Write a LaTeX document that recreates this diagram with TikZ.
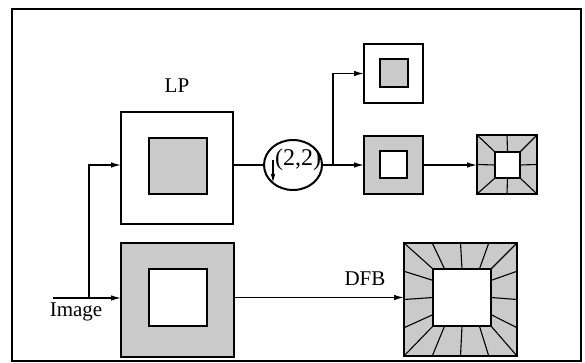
\documentclass[tikz,border=0pt]{standalone}
\usepackage{fontspec}
\setmainfont{Liberation Serif}
\usetikzlibrary{arrows.meta,calc,shapes.geometric}
\definecolor{boxgrey}{RGB}{202,202,202}
\tikzset{
  sq/.style={draw, line width=2pt, rectangle, inner sep=0pt, outer sep=0pt},
  greysq/.style={sq, fill=boxgrey},
  whitesq/.style={sq, fill=white},
  conn/.style={line width=1.2pt},
  arr/.style={conn, -{Latex[length=10pt,width=5.5pt]}},
  ray/.style={line width=1.1pt},
  lbl/.style={font=\fontsize{21}{23}\selectfont, inner sep=0pt},
}
\newcommand\drawrays[3]{%
  \foreach \ra/\rb in {#3} {
    \draw[ray] ($(#1.north west)!\ra!(#1.north east)$) -- ($(#2.north west)!\rb!(#2.north east)$);
    \draw[ray] ($(#1.south west)!\ra!(#1.south east)$) -- ($(#2.south west)!\rb!(#2.south east)$);
    \draw[ray] ($(#1.north west)!\ra!(#1.south west)$) -- ($(#2.north west)!\rb!(#2.south west)$);
    \draw[ray] ($(#1.north east)!\ra!(#1.south east)$) -- ($(#2.north east)!\rb!(#2.south east)$);
  }
  \draw[ray] (#1.north west) -- (#2.north west);
  \draw[ray] (#1.north east) -- (#2.north east);
  \draw[ray] (#1.south west) -- (#2.south west);
  \draw[ray] (#1.south east) -- (#2.south east);
}
\begin{document}
\begin{tikzpicture}[x=1pt,y=-1pt]
\useasboundingbox (0,0) rectangle (585,363);
\draw[line width=1.3pt] (12,9) rectangle (581,361);

% LP block
\node[sq, minimum width=112pt, minimum height=112pt] (lp) at (177,168) {};
\node[greysq, minimum width=58pt, minimum height=56pt] (lpin) at (178,166) {};
\node[lbl] (lplbl) at (177,86) {LP};

% bottom block
\node[greysq, minimum width=113pt, minimum height=114pt] (bot) at (177.5,300) {};
\node[whitesq, minimum width=58pt, minimum height=57pt] (botin) at (178,297.5) {};

% downsampler
\node[draw, ellipse, line width=2pt, minimum width=58pt, minimum height=50pt, inner sep=0pt] (ds) at (293,165) {};
\node[lbl, font=\fontsize{24}{26}\selectfont] (dslbl) at (298,160) {(2,2)};
\coordinate (dsa) at (273,160);
\coordinate (dsb) at (273,183);
\draw[conn, -{Latex[length=9pt,width=4.5pt]}] (dsa) -- (dsb);

% top block
\node[sq, minimum width=59pt, minimum height=59pt] (top) at (393.5,73.5) {};
\node[greysq, minimum width=28pt, minimum height=28pt] (topin) at (394,73) {};

% middle block
\node[greysq, minimum width=59pt, minimum height=58pt] (mid) at (393.5,165) {};
\node[whitesq, minimum width=27pt, minimum height=27pt] (midin) at (393.5,164.5) {};

% small right block
\node[greysq, minimum width=60pt, minimum height=59pt] (sr) at (507,164.5) {};
\node[whitesq, minimum width=25pt, minimum height=26pt] (srin) at (507.5,165) {};
\drawrays{sr}{srin}{0.5/0.5}
\node[sq, minimum width=60pt, minimum height=59pt] at (507,164.5) {};
\node[sq, minimum width=25pt, minimum height=26pt] at (507.5,165) {};

% big right block
\node[greysq, minimum width=113pt, minimum height=113pt] (big) at (460.5,299.5) {};
\node[whitesq, minimum width=58pt, minimum height=57pt] (bigin) at (462,297.5) {};
\drawrays{big}{bigin}{0.25/0.2,0.5/0.5,0.75/0.8}
\node[sq, minimum width=113pt, minimum height=113pt] at (460.5,299.5) {};
\node[sq, minimum width=58pt, minimum height=57pt] at (462,297.5) {};

% labels
\node[lbl] (imglbl) at (76,312) {Image};
\node[lbl] (dfblbl) at (365,279) {DFB};

% connectors
\coordinate (row) at (0,165);
\coordinate (row2) at (0,297.5);
\coordinate (img) at (53,298);
\coordinate (split) at (89,298);
\coordinate (br) at (333,165);
\draw[arr] (img) -- (bot.west |- img);
\draw[arr] (split) |- (lp.west |- row);
\draw[conn] (lp.east |- row) -- (ds.west);
\draw[arr] (ds.east) -- (mid.west);
\draw[arr] (br) |- (top.west);
\draw[arr] (mid.east) -- (sr.west |- mid.east);
\draw[arr] (bot.east |- row2) -- (big.west |- row2);
\end{tikzpicture}
\end{document}
